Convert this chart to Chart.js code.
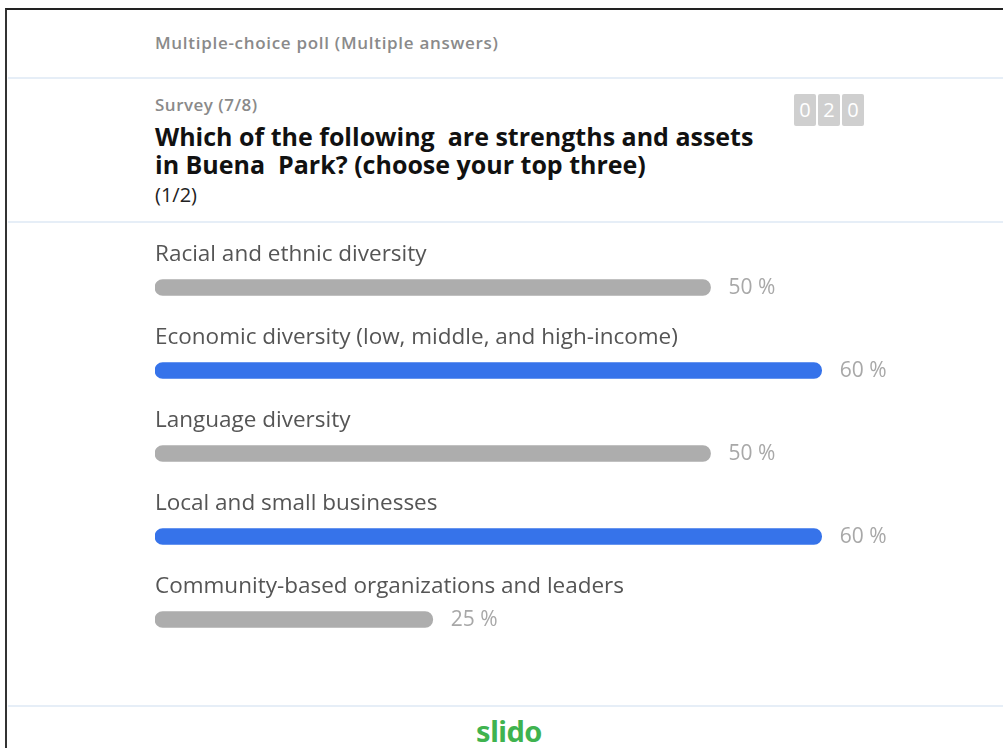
<!DOCTYPE html>
<html>
<head>
<meta charset="utf-8">
<script src="https://cdn.jsdelivr.net/npm/chart.js@4"></script>
<style>
  html, body { margin: 0; padding: 0; background: #fff; }
  body { width: 1003px; height: 748px; position: relative; overflow: hidden; font-family: "Open Sans", sans-serif; }
  .frame { position: absolute; left: 5px; top: 8px; right: -10px; bottom: -10px; border-top: 2px solid #222; border-left: 2px solid #333; }
  .sep { position: absolute; left: 8px; right: 0; height: 2px; background: #e6eef7; }
  .kind { position: absolute; left: 155px; top: 31px; font-size: 17px; font-weight: 600; color: #8a8a8a; letter-spacing: 0.7px; }
  .survey { position: absolute; left: 155px; top: 93px; font-size: 17px; font-weight: 600; color: #8a8a8a; letter-spacing: 0.5px; }
  .title { position: absolute; left: 155px; top: 122px; width: 625px; font-size: 25px; font-weight: bold; color: #111; line-height: 28px; }
  .page { position: absolute; left: 155px; top: 181px; font-size: 20px; color: #222; }
  .counter { position: absolute; left: 794px; top: 94px; display: flex; gap: 2px; }
  .counter span { width: 22px; height: 32px; background: #cfcfcf; color: #fff; font-size: 20px; line-height: 32px; text-align: center; border-radius: 2px; }
  .logo { position: absolute; left: 0; width: 1018px; top: 711px; text-align: center; font-family: "Noto Sans", sans-serif; font-weight: bold; font-size: 29px; color: #3fb34f; letter-spacing: -0.5px; }
  #wrap { position: absolute; left: 155px; top: 216px; width: 780px; height: 445px; }
</style>
</head>
<body>
<div class="frame"></div>
<div class="sep" style="top:77px"></div>
<div class="sep" style="top:221px"></div>
<div class="sep" style="top:705px"></div>
<div class="kind">Multiple-choice poll (Multiple answers)</div>
<div class="survey">Survey (7/8)</div>
<div class="title">Which of the following&nbsp; are strengths and assets in Buena&nbsp; Park? (choose your top three)</div>
<div class="page">(1/2)</div>
<div class="counter"><span>0</span><span>2</span><span>0</span></div>
<div id="wrap"><canvas id="pollChart"></canvas></div>
<div class="logo">slido</div>

<script>
const options = [
  "Racial and ethnic diversity",
  "Economic diversity (low, middle, and high-income)",
  "Language diversity",
  "Local and small businesses",
  "Community-based organizations and leaders"
];
const percents = [50, 60, 50, 60, 25];
const topShare = Math.max(...percents);

// leading answers are highlighted in blue, the rest stay grey
const barColors = percents.map(p => p === topShare ? "#3673ea" : "#adadad");

// option text above each bar, percentage to its right
const pollLabels = {
  id: "pollLabels",
  afterDatasetsDraw(chart) {
    const ctx = chart.ctx;
    const bars = chart.getDatasetMeta(0).data;
    ctx.save();
    ctx.textBaseline = "middle";
    bars.forEach((bar, i) => {
      ctx.font = '22.5px "Open Sans", sans-serif';
      ctx.fillStyle = "#555";
      ctx.textAlign = "left";
      ctx.fillText(options[i], chart.chartArea.left, bar.y - 33);
      ctx.font = '21px "Open Sans", sans-serif';
      ctx.fillStyle = "#a8a8a8";
      ctx.fillText(percents[i] + " %", bar.x + 18, bar.y + 1);
    });
    ctx.restore();
  }
};

const canvas = document.getElementById("pollChart");
new Chart(canvas.getContext("2d"), {
  type: "bar",
  data: {
    labels: options,
    datasets: [{
      data: percents,
      backgroundColor: barColors,
      barThickness: 16,
      borderRadius: 8,
      borderSkipped: false
    }]
  },
  options: {
    indexAxis: "y",
    responsive: true,
    maintainAspectRatio: false,
    animation: false,
    layout: { padding: { top: 30, right: 80, left: 0, bottom: 0 } },
    plugins: {
      legend: { display: false },
      tooltip: { enabled: false }
    },
    scales: {
      x: { display: false, min: 0, max: 63 },
      y: { display: false }
    }
  },
  plugins: [pollLabels]
});
</script>
</body>
</html>
